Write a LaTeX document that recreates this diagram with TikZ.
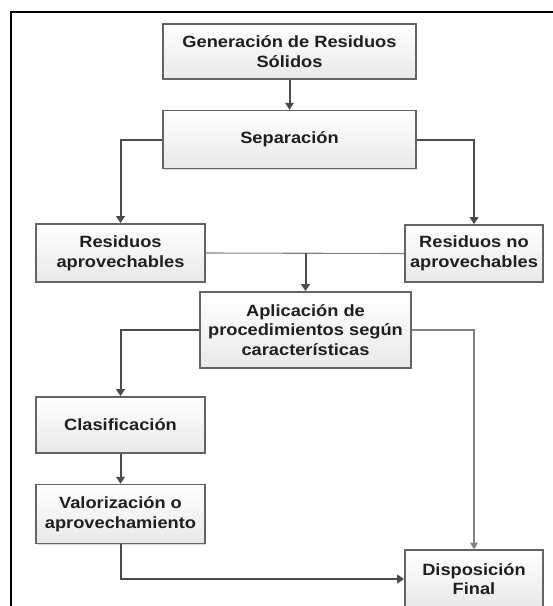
\documentclass[tikz,border=0pt]{standalone}
\usepackage{fontspec}
\setmainfont{Liberation Sans}[FakeStretch=1.12]
\usetikzlibrary{arrows.meta, positioning, shadows}
\definecolor{linegray}{RGB}{75,75,75}
\definecolor{boxgray}{RGB}{100,100,100}
\definecolor{faintgray}{RGB}{130,130,130}

\begin{document}
\begin{tikzpicture}[
  x=1pt, y=-1pt,
  box/.style={draw=boxgray, line width=1.6pt, top color=white, bottom color=gray!18,
              drop shadow={shadow xshift=1.4pt, shadow yshift=-1.4pt,
                           fill=gray!60, opacity=0.5},
              align=center, inner sep=2pt, text=black!88,
              font=\fontsize{16.3}{19.8}\selectfont\bfseries},
  flow/.style={-{Triangle[length=7pt,width=8.5pt]}, line width=2pt, linegray},
  faint/.style={line width=1.1pt, faintgray},
  faintflow/.style={-{Triangle[length=6.5pt,width=7.5pt]}, line width=1.1pt, faintgray},
]
\clip (0,0) rectangle (553,606);
\draw[line width=1.8pt] (11,12) rectangle (600,650);

%% Boxes
\node[box, minimum width=253pt, minimum height=55pt] (gen) at (289.5,51.5) {Generación de Residuos\\Sólidos};
\node[box, minimum width=253pt, minimum height=58pt, below=30pt of gen] (sep) {Separación};
\node[box, minimum width=169pt, minimum height=58pt] (apr) at (120.5,253) {Residuos\\aprovechables};
\node[box, minimum width=138pt, minimum height=57pt] (noapr) at (474,253.5) {Residuos no\\aprovechables};
\node[box, minimum width=211pt, minimum height=76pt] (apl) at (305.5,330) {Aplicación de\\procedimientos según\\características};
\node[box, minimum width=169pt, minimum height=56pt] (clas) at (120.5,425) {Clasificación};
\node[box, minimum width=169pt, minimum height=59pt, below=30pt of clas] (val) {Valorización o\\aprovechamiento};
\node[box, minimum width=138pt, minimum height=58pt] (disp) at (474,579) {Disposición\\Final};

%% Connectors
\draw[flow] (gen) -- (sep);
\draw[flow] (sep.west) -| (apr.north);
\draw[flow] (sep.east) -| (noapr.north);
\draw[faint] (apr.east) -- (noapr.west);
\coordinate (join) at (apl.north |- apr.east);
\draw[flow] (join) -- (apl.north);
\draw[flow] (apl.west) -| (clas.north);
\draw[faintflow] (apl.east) -| (disp.north);
\draw[flow] (clas) -- (val);
\draw[flow] (val.south) |- (disp.west);

\end{tikzpicture}
\end{document}
